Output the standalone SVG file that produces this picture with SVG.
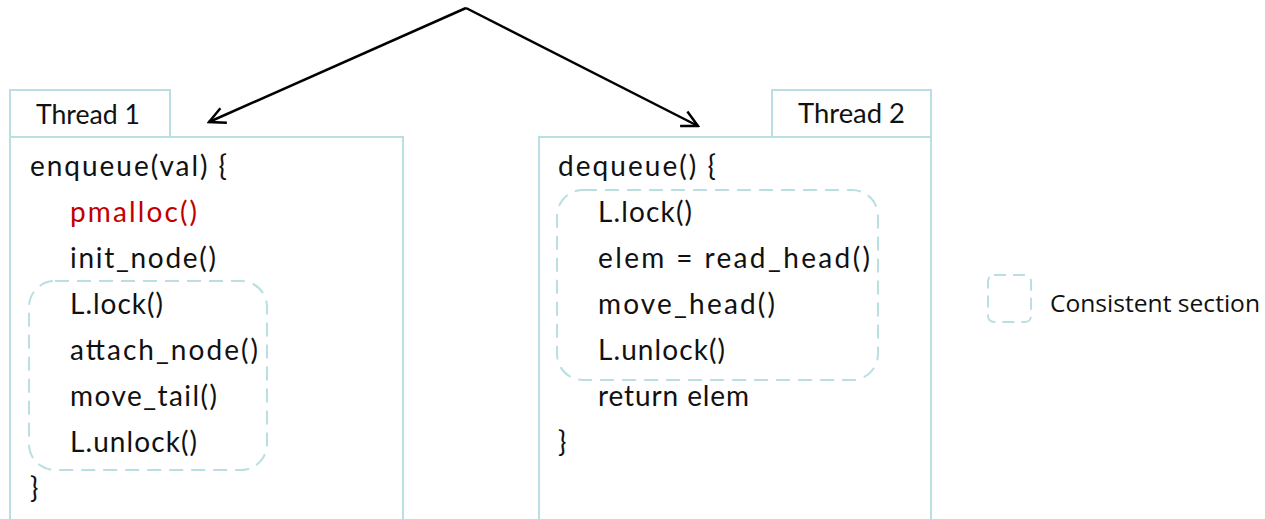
<svg xmlns="http://www.w3.org/2000/svg" width="1265" height="519" viewBox="0 0 1265 519">
  <style>
    .frame { fill: #ffffff; stroke: #b9dfe2; stroke-width: 2; }
    .section { fill: none; stroke: #b9dfe2; stroke-width: 2; stroke-dasharray: 14 8; }
    .code { font-family: "Lato", "Liberation Sans", Arial, sans-serif; font-size: 28px; fill: #111111; }
    .alloc { fill: #c00000; }
    .tab { font-family: "Lato", "Liberation Sans", Arial, sans-serif; font-size: 26px; fill: #111111; }
    .legend { font-family: "Open Sans", "Liberation Sans", sans-serif; font-size: 24px; font-weight: 500; fill: #111111; }
    .edge { fill: none; stroke: #000000; stroke-width: 2.5; }
  </style>
  <defs>
    <marker id="open-arrow" viewBox="0 0 20 20" refX="18" refY="10" markerWidth="20" markerHeight="20" markerUnits="userSpaceOnUse" orient="auto">
      <path d="M2,2 L18,10 L2,18" fill="none" stroke="#000000" stroke-width="2.5"/>
    </marker>
  </defs>

  <rect width="1265" height="519" fill="#ffffff"/>

  <!-- fork into the two threads -->
  <g id="connectors">
    <path class="edge" d="M466,8 L209,122" marker-end="url(#open-arrow)"/>
    <path class="edge" d="M466,8 L698,126" marker-end="url(#open-arrow)"/>
  </g>

  <!-- thread 1: enqueue -->
  <g id="thread1">
    <rect class="frame" x="10" y="90" width="160" height="47"/>
    <text class="tab" x="36" y="124" textLength="104" lengthAdjust="spacingAndGlyphs">Thread 1</text>
    <rect class="frame" x="10" y="137" width="393" height="400"/>
    <rect class="section" x="29" y="281" width="238" height="189" rx="26"/>
    <text class="code" x="30" y="176" textLength="197" lengthAdjust="spacing">enqueue(val) {</text>
    <text class="code alloc" x="70" y="222" textLength="127" lengthAdjust="spacing">pmalloc()</text>
    <text class="code" x="70" y="268" textLength="146" lengthAdjust="spacing">init_node()</text>
    <text class="code" x="70" y="314" textLength="93" lengthAdjust="spacing">L.lock()</text>
    <text class="code" x="70" y="360" textLength="188" lengthAdjust="spacing">attach_node()</text>
    <text class="code" x="70" y="406" textLength="147" lengthAdjust="spacing">move_tail()</text>
    <text class="code" x="70" y="452" textLength="127" lengthAdjust="spacing">L.unlock()</text>
    <text class="code" x="30" y="498">}</text>
  </g>

  <!-- thread 2: dequeue -->
  <g id="thread2">
    <rect class="frame" x="772" y="90" width="159" height="47"/>
    <text class="tab" x="798" y="123" textLength="107" lengthAdjust="spacingAndGlyphs">Thread 2</text>
    <rect class="frame" x="539" y="137" width="392" height="400"/>
    <rect class="section" x="557" y="190" width="321" height="190" rx="26"/>
    <text class="code" x="558" y="176" textLength="158" lengthAdjust="spacing">dequeue() {</text>
    <text class="code" x="598" y="222" textLength="94" lengthAdjust="spacing">L.lock()</text>
    <text class="code" x="598" y="268" textLength="272" lengthAdjust="spacing">elem = read_head()</text>
    <text class="code" x="598" y="314" textLength="177" lengthAdjust="spacing">move_head()</text>
    <text class="code" x="598" y="360" textLength="127" lengthAdjust="spacing">L.unlock()</text>
    <text class="code" x="598" y="406" textLength="151" lengthAdjust="spacing">return elem</text>
    <text class="code" x="558" y="452">}</text>
  </g>

  <!-- legend -->
  <g id="legend">
    <rect class="section" x="988" y="275" width="43" height="47" rx="6" style="stroke-dasharray: 12 7"/>
    <text class="legend" x="1050" y="312" textLength="210" lengthAdjust="spacingAndGlyphs">Consistent section</text>
  </g>
</svg>
